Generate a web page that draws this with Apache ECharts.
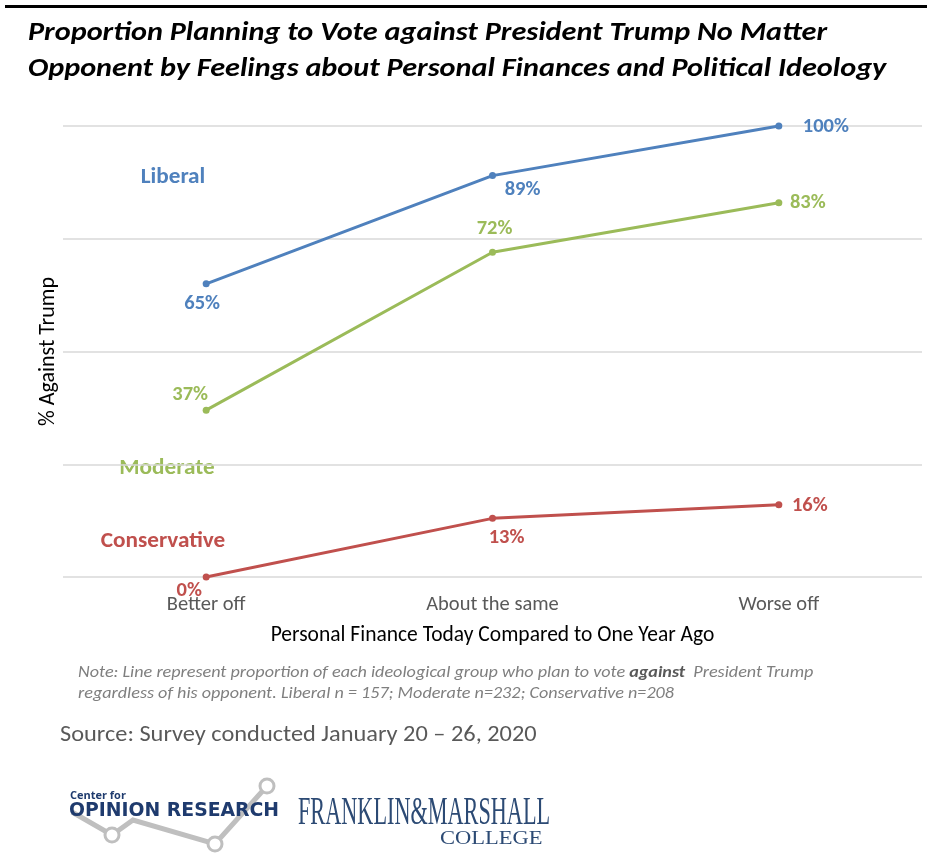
<!DOCTYPE html>
<html>
<head>
<meta charset="utf-8">
<script src="https://cdn.jsdelivr.net/npm/echarts@6/dist/echarts.min.js"></script>
<style>
html,body{margin:0;padding:0;background:#fff;}
#chart{width:927px;height:861px;}
</style>
</head>
<body>
<div id="chart"></div>
<script>
const categories = ['Better off', 'About the same', 'Worse off'];
const liberal = [65, 89, 100];
const moderate = [37, 72, 83];
const conservative = [0, 13, 16];
const seriesNames = ['Liberal', 'Moderate', 'Conservative'];
const titleLines = [
  'Proportion Planning to Vote against President Trump No Matter',
  'Opponent by Feelings about Personal Finances and Political Ideology'
];

const colors = ['#4F81BD', '#9BBB59', '#C0504D'];
const FONT = 'Carlito, Lato, "Open Sans", sans-serif';

// label offsets (pixel) of each value label relative to its point
const labelOffsets = [
  [[-4, 20], [30, 14], [47, 1]],
  [[-16, -15], [2, -23], [29, 0]],
  [[-17, 14], [14, 20], [31, 1]]
];

function buildData(values, si) {
  return values.map((v, i) => ({
    value: v,
    label: { offset: labelOffsets[si][i] }
  }));
}

const allSeries = [liberal, moderate, conservative].map((vals, si) => ({
  name: seriesNames[si],
  type: 'line',
  data: buildData(vals, si),
  symbol: 'circle',
  symbolSize: 7,
  lineStyle: { width: 3, color: colors[si] },
  itemStyle: { color: colors[si] },
  label: {
    show: true,
    position: 'inside',
    formatter: p => p.value + '%',
    color: colors[si],
    fontFamily: FONT,
    fontWeight: 'bold',
    fontSize: 20.5
  },
  emphasis: { disabled: true },
  animation: false
}));

const chart = echarts.init(document.getElementById('chart'));
chart.setOption({
  backgroundColor: '#fff',
  animation: false,
  grid: { left: 63, right: 5, top: 126, bottom: 284, containLabel: false },
  xAxis: {
    type: 'category',
    data: categories,
    boundaryGap: true,
    axisLine: { show: false },
    axisTick: { show: false },
    axisLabel: { color: '#595959', fontFamily: FONT, fontSize: 20.5, margin: 17 },
    name: 'Personal Finance Today Compared to One Year Ago',
    nameLocation: 'middle',
    nameGap: 48,
    nameTextStyle: { color: '#000', fontFamily: FONT, fontSize: 21.5 }
  },
  yAxis: {
    type: 'value',
    min: 0,
    max: 100,
    interval: 25,
    axisLine: { show: false },
    axisTick: { show: false },
    axisLabel: { show: false },
    splitLine: { lineStyle: { color: '#d9d9d9', width: 1.5 } },
    name: '% Against Trump',
    nameLocation: 'middle',
    nameRotate: 90,
    nameGap: 4,
    nameTextStyle: { color: '#000', fontFamily: FONT, fontSize: 22 }
  },
  series: allSeries,
  graphic: [
    { type: 'rect', shape: { x: 5, y: 5, width: 922, height: 3 }, style: { fill: '#000' } },
    { type: 'text', x: 28, y: 33, scaleX: 1.12, style: { text: titleLines[0], font: 'italic bold 27px ' + FONT, fill: '#000', textVerticalAlign: 'middle' } },
    { type: 'text', x: 28, y: 69, scaleX: 1.12, style: { text: titleLines[1], font: 'italic bold 27px ' + FONT, fill: '#000', textVerticalAlign: 'middle' } },
    { type: 'text', x: 173, y: 178, scaleX: 1.08, style: { text: seriesNames[0], fill: colors[0], font: 'bold 21.5px ' + FONT, textAlign: 'center', textVerticalAlign: 'middle' } },
    { type: 'text', x: 167, y: 469, scaleX: 1.08, style: { text: seriesNames[1], fill: colors[1], font: 'bold 21.5px ' + FONT, textAlign: 'center', textVerticalAlign: 'middle' } },
    { type: 'text', x: 163, y: 542, scaleX: 1.08, style: { text: seriesNames[2], fill: colors[2], font: 'bold 21.5px ' + FONT, textAlign: 'center', textVerticalAlign: 'middle' } },
    {
      type: 'text', x: 78, y: 673, scaleX: 1.067,
      style: {
        text: '{n|Note: Line represent proportion of each ideological group who plan to vote }{b|against}{n|  President Trump}',
        textVerticalAlign: 'middle',
        rich: {
          n: { font: 'italic 17px ' + FONT, fill: '#7f7f7f', color: '#7f7f7f' },
          b: { font: 'italic bold 17px ' + FONT, fill: '#595959', color: '#595959' }
        }
      }
    },
    { type: 'text', x: 78, y: 694, scaleX: 1.067, style: { text: 'regardless of his opponent. Liberal n = 157; Moderate n=232; Conservative n=208', font: 'italic 17px ' + FONT, fill: '#7f7f7f', textVerticalAlign: 'middle' } },
    { type: 'text', x: 60, y: 735, scaleX: 1.107, style: { text: 'Source: Survey conducted January 20 \u2013 26, 2020', font: '22px ' + FONT, fill: '#595959', textVerticalAlign: 'middle' } },
    // logo
    { type: 'polyline', shape: { points: [[72, 812], [112, 835], [133, 820], [215, 844], [267, 786]] }, style: { stroke: '#bfbfbf', lineWidth: 5, fill: null } },
    { type: 'circle', shape: { cx: 112, cy: 835, r: 7 }, style: { fill: '#fff', stroke: '#bfbfbf', lineWidth: 3 } },
    { type: 'circle', shape: { cx: 215, cy: 844, r: 7 }, style: { fill: '#fff', stroke: '#bfbfbf', lineWidth: 3 } },
    { type: 'circle', shape: { cx: 267, cy: 786, r: 7 }, style: { fill: '#fff', stroke: '#bfbfbf', lineWidth: 3 } },
    { type: 'text', x: 70, y: 796, style: { text: 'Center for', font: 'bold 11px "Open Sans", sans-serif', fill: '#1f3b6e', textVerticalAlign: 'middle' } },
    { type: 'text', x: 69, y: 811, scaleX: 0.99, style: { text: 'OPINION RESEARCH', font: 'bold 19px "DejaVu Sans", sans-serif', fill: '#1f3b6e', textVerticalAlign: 'middle' } },
    { type: 'text', x: 298, y: 813, scaleX: 0.556, style: { text: 'FRANKLIN&MARSHALL', font: '40px "Liberation Serif", serif', fill: '#2c4a74', textVerticalAlign: 'middle' } },
    { type: 'text', x: 440, y: 839, scaleX: 1.25, style: { text: 'COLLEGE', font: '18px "Liberation Serif", serif', fill: '#2c4a74', textVerticalAlign: 'middle' } }
  ]
});
</script>
</body>
</html>
